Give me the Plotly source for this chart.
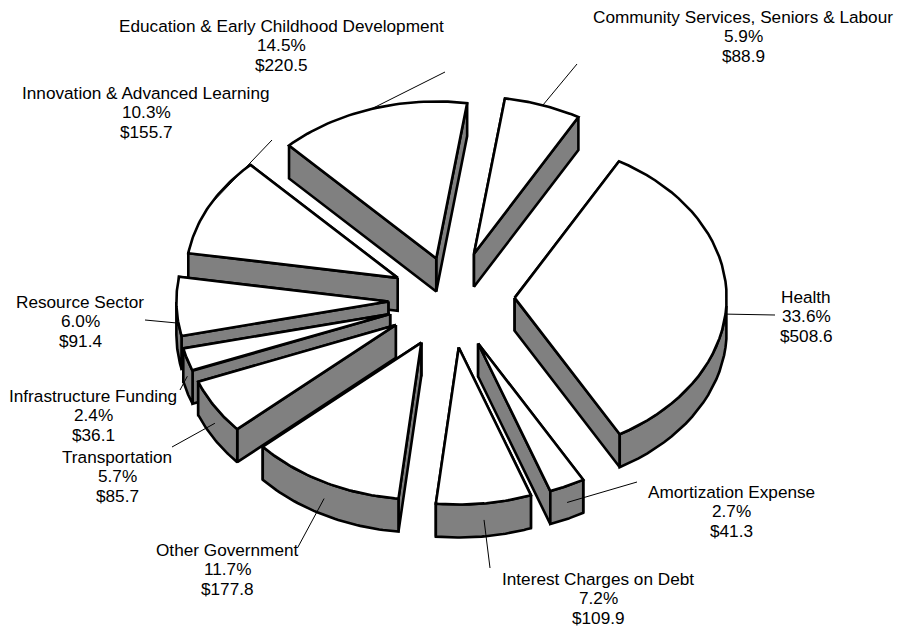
import math
import plotly.graph_objects as go

# ---- data ----
categories = ["Health", "Amortization Expense", "Interest Charges on Debt", "Other Government",
              "Transportation", "Infrastructure Funding", "Resource Sector",
              "Innovation & Advanced Learning", "Education & Early Childhood Development",
              "Community Services, Seniors & Labour"]
percents = [33.6, 2.7, 7.2, 11.7, 5.7, 2.4, 6.0, 10.3, 14.5, 5.9]
dollars = [508.6, 41.3, 109.9, 177.8, 85.7, 36.1, 91.4, 155.7, 220.5, 88.9]

# ---- layout of labels (centre of text block), leader end, slice offset ----
label_xy = [(806, 316), (731, 511), (598, 598), (227, 569), (117, 476),
            (93, 415), (80, 321), (146, 112), (281, 45), (743, 36)]
leader_end = [(775, 315), (637, 482), (490, 568), (298, 547), (172, 447),
              (180, 390), (145, 320), (272, 140), (445, 72), (577, 64)]
nudge = [(0, -2), (1, 0), (1, 0), (1, 0), (1, 0),
         (2, 0), (3, 0), (5, 0), (6, 4), (3, -1)]

W, H = 898, 627
CX, CY = 450, 300
RX, RY = 212, 157
DEPTH = 33
EXPLODE = 0.305
START = 60.5
LINE = 2.6
GREY = "#808080"
LINE_STEP = 19.5

total = sum(dollars)
fig = go.Figure()


def poly(xs, ys, fill, width=LINE):
    fig.add_trace(go.Scatter(x=xs + xs[:1], y=ys + ys[:1], mode="lines", fill="toself",
                             fillcolor=fill, line=dict(color="black", width=width),
                             hoverinfo="skip", showlegend=False))


slices = []
a = START
for i, v in enumerate(dollars):
    sweep = v / total * 360
    slices.append((i, a, a - sweep))
    a -= sweep


def tip_of(i, a0, a1):
    m = math.radians((a0 + a1) / 2)
    return (CX + EXPLODE * RX * math.cos(m) + nudge[i][0],
            CY - EXPLODE * RY * math.sin(m) + nudge[i][1])


def arc(tip, a0, a1, n=40):
    pts = []
    for k in range(n + 1):
        t = math.radians(a0 + (a1 - a0) * k / n)
        pts.append((tip[0] + RX * math.cos(t), tip[1] - RY * math.sin(t)))
    return pts


def draw(i, a0, a1):
    tip = tip_of(i, a0, a1)
    pts = arc(tip, a0, a1)
    # radial walls, farther one first
    ends = sorted([pts[0], pts[-1]], key=lambda p: p[1])
    for p in ends:
        poly([tip[0], p[0], p[0], tip[0]],
             [tip[1], p[1], p[1] + DEPTH, tip[1] + DEPTH], GREY)
    # outer wall: only the part of the rim on the lower half of the ellipse
    low = []
    for k in range(41):
        d = a0 + (a1 - a0) * k / 40
        if math.sin(math.radians(d)) <= 0:
            t = math.radians(d)
            low.append((tip[0] + RX * math.cos(t), tip[1] - RY * math.sin(t)))
    if len(low) > 1:
        xs = [p[0] for p in low]
        ys = [p[1] for p in low]
        poly(xs + xs[::-1], ys + [y + DEPTH for y in ys[::-1]], GREY)
    # top face
    poly([tip[0]] + [p[0] for p in pts], [tip[1]] + [p[1] for p in pts], "white")


order = sorted(slices, key=lambda s: tip_of(*s)[1] + 0.001 * s[0])
for i, a0, a1 in order:
    draw(i, a0, a1)

# leader lines
for i, a0, a1 in slices:
    tip = tip_of(i, a0, a1)
    m = math.radians((a0 + a1) / 2)
    sx = tip[0] + RX * math.cos(m)
    sy = tip[1] - RY * math.sin(m)
    if math.sin(m) < 0.2:
        sy += DEPTH / 2
    fig.add_trace(go.Scatter(x=[sx, leader_end[i][0]], y=[sy, leader_end[i][1]], mode="lines",
                             line=dict(color="black", width=1), hoverinfo="skip", showlegend=False))

for i, c in enumerate(categories):
    lines = [c, f"{percents[i]:.1f}%", f"${dollars[i]:.1f}"]
    for j, t in enumerate(lines):
        fig.add_annotation(x=label_xy[i][0], y=label_xy[i][1] + (j - 1) * LINE_STEP,
                           xref="x", yref="y", text=t, showarrow=False,
                           xanchor="center", yanchor="middle",
                           font=dict(family="Liberation Sans, Arial, sans-serif", size=17.2, color="black"))

fig.update_layout(width=W, height=H, margin=dict(l=0, r=0, t=0, b=0),
                  paper_bgcolor="white", plot_bgcolor="white", showlegend=False,
                  xaxis=dict(range=[0, W], visible=False, fixedrange=True),
                  yaxis=dict(range=[H, 0], visible=False, fixedrange=True))
fig.write_html("out.html", config={"displayModeBar": False},
               post_script="document.body.style.margin='0';document.body.style.overflow='hidden';window.dispatchEvent(new Event('resize'));")
